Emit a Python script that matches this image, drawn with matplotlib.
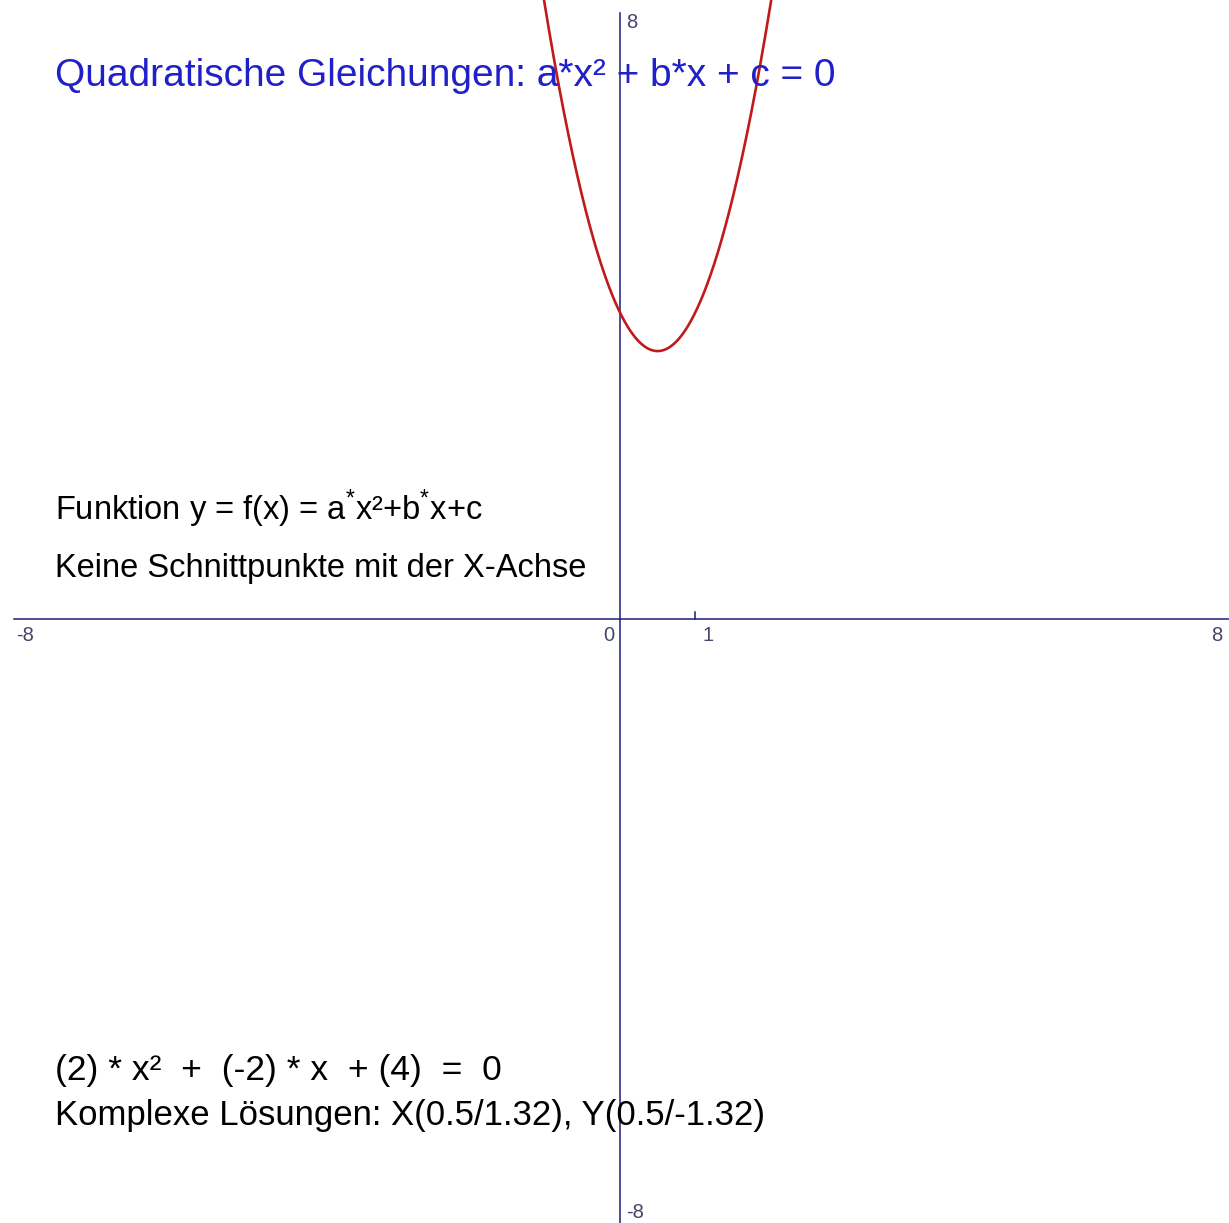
import numpy as np
import matplotlib.pyplot as plt

# coefficients of a*x^2 + b*x + c
a, b, c = 2, -2, 4

# visible window and axis extent
x_min, x_max = -8.27, 8.12
y_min, y_max = -7.9, 8.09
axis_x_start = -8.08
axis_y_top = 7.92

axis_labels_x = ["-8", "0", "1", "8"]
axis_labels_y = ["8", "-8"]

title = "Quadratische Gleichungen: a*x\u00b2 + b*x + c = 0"
info_1 = "Funktion y = f(x) = a$^{*}$x\u00b2+b$^{*}$x+c"
info_2 = "Keine Schnittpunkte mit der X-Achse"

# complex roots
re = -b / (2 * a)
im = np.sqrt(4 * a * c - b * b) / (2 * a)
equation = f"({a}) * x\u00b2  +  ({b}) * x  + ({c})  =  0"
roots = f"Komplexe L\u00f6sungen: X({re:.1f}/{im:.2f}), Y({re:.1f}/{-im:.2f})"

plt.rcParams["font.family"] = ["Liberation Sans", "DejaVu Sans"]
plt.rcParams["mathtext.fontset"] = "custom"
plt.rcParams["mathtext.rm"] = "Liberation Sans"

fig = plt.figure(figsize=(12.29, 12.23), dpi=100)
ax = fig.add_axes([0, 0, 1, 1])
ax.set_xlim(x_min, x_max)
ax.set_ylim(y_min, y_max)
ax.axis("off")

axis_col = "#1c1c78"
label_col = "#45456e"

# coordinate axes
ax.plot([axis_x_start, x_max], [0, 0], color=axis_col, lw=1.1)
ax.plot([0, 0], [y_min, axis_y_top], color=axis_col, lw=1.1)
ax.plot([1, 1], [0, 0.09], color=axis_col, lw=1.1)

lab = dict(color=label_col, fontsize=14.5, va="top")
ax.text(-7.93, -0.09, axis_labels_x[0], ha="center", **lab)
ax.text(-0.08, -0.09, axis_labels_x[1], ha="right", **lab)
ax.text(1.1, -0.09, axis_labels_x[2], ha="left", **lab)
ax.text(7.95, -0.09, axis_labels_x[3], ha="center", **lab)
ax.text(0.08, 7.92, axis_labels_y[0], ha="left", **lab)
ax.text(0.08, -7.64, axis_labels_y[1], ha="left", **lab)

# parabola
xs = np.linspace(-1.2, 2.2, 400)
ys = a * xs ** 2 + b * xs + c
ax.plot(xs, ys, color="#c01a1a", lw=1.9, zorder=3)

ax.text(-7.53, 7.09, title, color="#2020c8", fontsize=28, va="center", ha="left")
ax.text(-7.53, 1.44, info_1, color="black", fontsize=23.5, va="center", ha="left")
ax.text(-7.53, 0.66, info_2, color="black", fontsize=23.5, va="center", ha="left")
ax.text(-7.53, -5.91, equation, color="black", fontsize=25.5, va="center", ha="left")
ax.text(-7.53, -6.49, roots, color="black", fontsize=25, va="center", ha="left")

fig.savefig("out.png", dpi=100)
